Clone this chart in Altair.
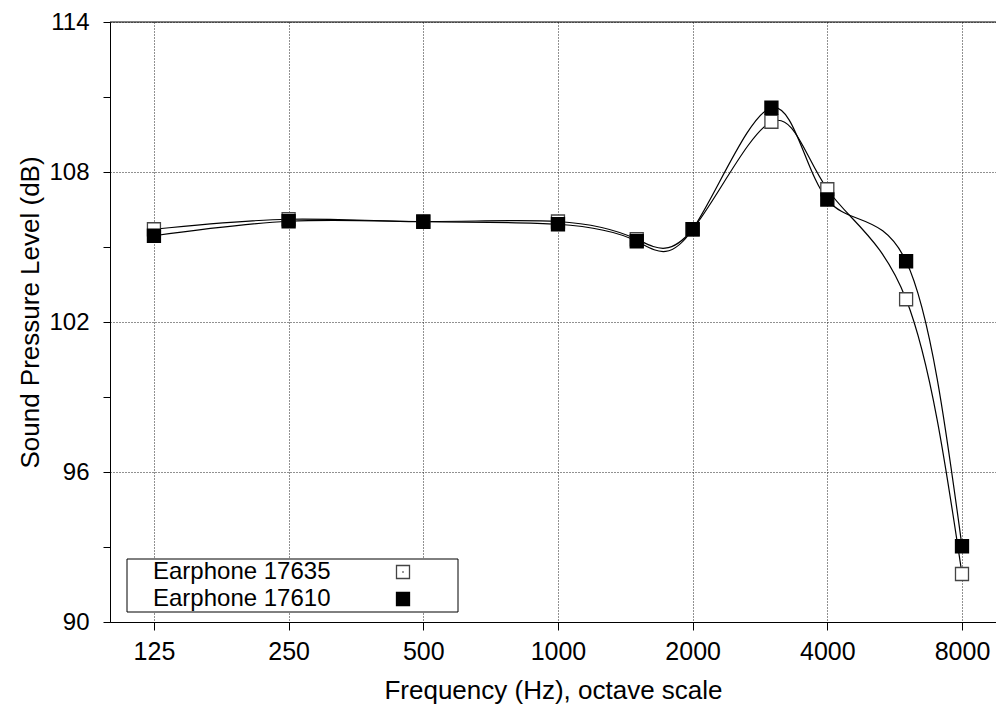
import altair as alt
import pandas as pd

# ---- data ----
freq = [125, 250, 500, 1000, 1500, 2000, 3000, 4000, 6000, 8000]
spl_17635 = [105.71, 106.11, 106.02, 106.02, 105.31, 105.71, 110.01, 107.31, 102.91, 91.92]
spl_17610 = [105.45, 106.03, 106.01, 105.91, 105.23, 105.71, 110.57, 106.90, 104.43, 93.03]
series_names = ["Earphone 17635", "Earphone 17610"]
series_fill = ["white", "black"]
series_stroke = ["#444444", "black"]
x_ticks = [125, 250, 500, 1000, 2000, 4000, 8000]
y_ticks = [90, 91.5, 93, 94.5, 96, 97.5, 99, 100.5, 102, 103.5, 105, 106.5,
           108, 109.5, 111, 112.5, 114]

FONT = "Liberation Sans"
W, H = 886, 600

rows = []
for name, vals in zip(series_names, [spl_17635, spl_17610]):
    for f, v in zip(freq, vals):
        rows.append({"freq": f, "spl": v, "series": name})
df = pd.DataFrame(rows)

xscale = alt.Scale(type="log", base=2, domain=[99.7, 9530], nice=False)
yscale = alt.Scale(domain=[90, 114], nice=False, zero=False)

x_enc = alt.X(
    "freq:Q", scale=xscale,
    axis=alt.Axis(
        values=x_ticks, format="d", title="Frequency (Hz), octave scale",
        labelFont=FONT, labelFontSize=25, labelColor="black", labelPadding=9,
        tickSize=8, tickColor="black", domainColor="black", domainWidth=1,
        grid=True, gridColor="#222222", gridDash=[1, 2], gridWidth=1,
        titleFont=FONT, titleFontSize=26, titleFontWeight="normal", titleColor="black",
        titleY=68, titleBaseline="middle",
    ),
)
y_enc = alt.Y(
    "spl:Q", scale=yscale,
    axis=alt.Axis(
        values=y_ticks, title="Sound Pressure Level (dB)",
        labelExpr="datum.value % 6 === 0 ? datum.label : ''",
        labelFont=FONT, labelFontSize=24, labelColor="black", labelPadding=14,
        tickSize=7, tickColor="black", domainColor="black", domainWidth=1,
        grid=True, gridColor="#222222", gridDash=[1, 2], gridWidth=1,
        gridOpacity={"condition": {"test": "datum.value % 6 === 0", "value": 1}, "value": 0},
        titleFont=FONT, titleFontSize=26, titleFontWeight="normal", titleColor="black",
        titleX=-80, titleY=H / 2 - 10, titleAngle=270, titleAlign="center", titleBaseline="middle",
    ),
)

lines = alt.Chart(df).mark_line(
    interpolate="natural", color="black", strokeWidth=1.2
).encode(x=x_enc, y=y_enc, detail="series:N")

points = alt.Chart(df).mark_point(
    shape="square", size=169, strokeWidth=1.3, opacity=1, filled=False
).encode(
    x="freq:Q", y="spl:Q",
    fill=alt.Fill("series:N", scale=alt.Scale(domain=series_names, range=series_fill), legend=None),
    stroke=alt.Stroke("series:N", scale=alt.Scale(domain=series_names, range=series_stroke), legend=None),
)

top_border = alt.Chart(pd.DataFrame({"a": [0]})).mark_rule(color="black", strokeWidth=1).encode(
    x=alt.value(0), x2=alt.value(W), y=alt.value(0)
)

# ---- legend box (manual, gnuplot style) ----
leg_df = pd.DataFrame({"series": series_names, "row": [0, 1]})
leg_box = alt.Chart(pd.DataFrame({"a": [0]})).mark_rect(
    fill="white", stroke="black", strokeWidth=1
).encode(x=alt.value(17), x2=alt.value(348), y=alt.value(537), y2=alt.value(590))

leg_layers = []
for i, name in enumerate(series_names):
    sub = leg_df[leg_df["series"] == name]
    ypix = 550 + 27 * i
    leg_layers.append(
        alt.Chart(sub).mark_text(font=FONT, fontSize=24, align="left", baseline="middle",
                                 color="black").encode(
            x=alt.value(43), y=alt.value(ypix), text="series:N")
    )
    leg_layers.append(
        alt.Chart(sub).mark_point(shape="square", size=169, strokeWidth=1.3, opacity=1,
                                  fill=series_fill[i], stroke=series_stroke[i]).encode(
            x=alt.value(293), y=alt.value(ypix))
    )
    if i == 0:
        leg_layers.append(
            alt.Chart(sub).mark_point(shape="square", size=2, opacity=1, filled=True,
                                      color="#444444").encode(
                x=alt.value(293), y=alt.value(ypix))
        )

chart = alt.layer(lines, points, top_border, leg_box, *leg_layers).properties(
    width=W, height=H,
    autosize=alt.AutoSizeParams(type="none"),
    padding={"left": 110, "top": 22, "right": 0, "bottom": 97},
    background="white",
).configure_view(stroke=None)

chart.save("out.html", embed_options={"renderer": "svg", "actions": False})
